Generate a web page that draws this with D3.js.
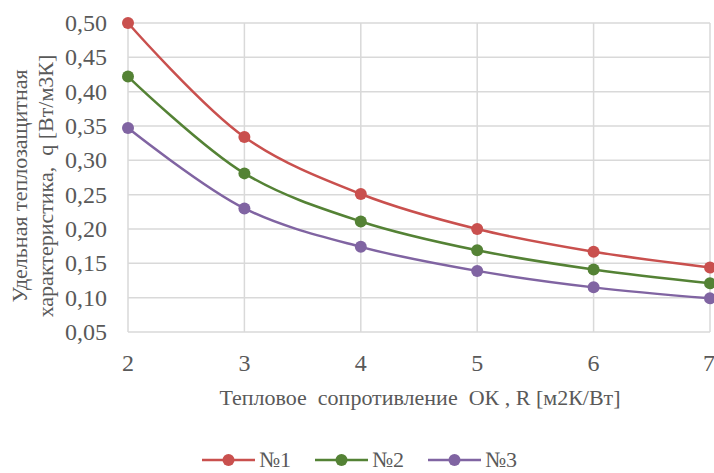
<!DOCTYPE html>
<html>
<head>
<meta charset="utf-8">
<script src="https://cdn.jsdelivr.net/npm/d3@7"></script>
</head>
<body style="margin:0">
<script>
// data
var resistance = [2, 3, 4, 5, 6, 7];
var series1 = [0.500, 0.334, 0.251, 0.200, 0.167, 0.144];
var series2 = [0.422, 0.281, 0.211, 0.169, 0.141, 0.121];
var series3 = [0.347, 0.230, 0.174, 0.139, 0.115, 0.099];
var seriesNames = ['№1', '№2', '№3'];
var seriesColors = ['#c9504e', '#548235', '#8064a2'];
var yTicks = [0.05, 0.10, 0.15, 0.20, 0.25, 0.30, 0.35, 0.40, 0.45, 0.50];

var width = 714;
var height = 473;
var margin = { top: 23, right: 4, bottom: 141, left: 128 };
var textColor = '#595959';

var svg = d3.select('body').append('svg')
    .attr('width', width)
    .attr('height', height);

var x = d3.scaleLinear().domain([2, 7]).range([margin.left, width - margin.right]);
var y = d3.scaleLinear().domain([0.05, 0.50]).range([height - margin.bottom, margin.top]);

// gridlines
svg.selectAll('line.hgrid')
    .data(yTicks).enter().append('line')
    .attr('class', 'hgrid')
    .attr('x1', x(2)).attr('x2', x(7))
    .attr('y1', function (d) { return y(d); })
    .attr('y2', function (d) { return y(d); })
    .attr('stroke', '#d9d9d9').attr('stroke-width', 1.5);

svg.selectAll('line.vgrid')
    .data(resistance).enter().append('line')
    .attr('class', 'vgrid')
    .attr('y1', y(0.05)).attr('y2', y(0.50))
    .attr('x1', function (d) { return x(d); })
    .attr('x2', function (d) { return x(d); })
    .attr('stroke', '#d9d9d9').attr('stroke-width', 1.5);

// y tick labels
svg.selectAll('text.ytick')
    .data(yTicks).enter().append('text')
    .attr('class', 'ytick')
    .attr('x', 107)
    .attr('y', function (d) { return y(d) + 8; })
    .attr('text-anchor', 'end')
    .style('font-family', '"Liberation Serif"')
    .style('font-size', '24px')
    .style('fill', textColor)
    .text(function (d) { return d.toFixed(2).replace('.', ','); });

// x tick labels
svg.selectAll('text.xtick')
    .data(resistance).enter().append('text')
    .attr('class', 'xtick')
    .attr('x', function (d) { return d === 7 ? x(d) + 5 : x(d); })
    .attr('y', 371)
    .attr('text-anchor', function (d) { return d === 7 ? 'end' : 'middle'; })
    .style('font-family', '"Liberation Serif"')
    .style('font-size', '24px')
    .style('fill', textColor)
    .text(function (d) { return d; });

// axis titles
svg.append('text')
    .attr('x', 420).attr('y', 405)
    .attr('text-anchor', 'middle')
    .style('font-family', '"Liberation Serif"')
    .style('font-size', '22px')
    .style('fill', textColor)
    .style('white-space', 'pre')
    .text('Тепловое  сопротивление  ОК , R [м2К/Вт]');

svg.append('text')
    .attr('transform', 'translate(27,186) rotate(-90)')
    .attr('text-anchor', 'middle')
    .style('font-family', '"Liberation Serif"')
    .style('font-size', '22px')
    .style('fill', textColor)
    .text('Удельная теплозащитная');

svg.append('text')
    .attr('transform', 'translate(53,186) rotate(-90)')
    .attr('text-anchor', 'middle')
    .style('font-family', '"Liberation Serif"')
    .style('font-size', '22px')
    .style('fill', textColor)
    .style('white-space', 'pre')
    .text('характеристика,  q [Вт/м3К]');

// series
var allSeries = [series1, series2, series3];
var line = d3.line()
    .x(function (d, i) { return x(resistance[i]); })
    .y(function (d) { return y(d); })
    .curve(d3.curveCatmullRom.alpha(0.5));

allSeries.forEach(function (values, s) {
    svg.append('path')
        .datum(values)
        .attr('d', line)
        .attr('fill', 'none')
        .attr('stroke', seriesColors[s])
        .attr('stroke-width', 2.5);

    svg.selectAll('circle.s' + s)
        .data(values).enter().append('circle')
        .attr('class', 's' + s)
        .attr('cx', function (d, i) { return x(resistance[i]); })
        .attr('cy', function (d) { return y(d); })
        .attr('r', 6)
        .attr('fill', seriesColors[s]);
});

// legend
var legendX = [202, 315, 428];
var legendY = 460;

svg.selectAll('line.legend')
    .data(seriesNames).enter().append('line')
    .attr('class', 'legend')
    .attr('x1', function (d, i) { return legendX[i]; })
    .attr('x2', function (d, i) { return legendX[i] + 53; })
    .attr('y1', legendY).attr('y2', legendY)
    .attr('stroke', function (d, i) { return seriesColors[i]; })
    .attr('stroke-width', 2.5);

svg.selectAll('circle.legend')
    .data(seriesNames).enter().append('circle')
    .attr('class', 'legend')
    .attr('cx', function (d, i) { return legendX[i] + 26.5; })
    .attr('cy', legendY)
    .attr('r', 6)
    .attr('fill', function (d, i) { return seriesColors[i]; });

svg.selectAll('text.legend')
    .data(seriesNames).enter().append('text')
    .attr('class', 'legend')
    .attr('x', function (d, i) { return legendX[i] + 57; })
    .attr('y', legendY + 7)
    .style('font-family', '"Liberation Serif"')
    .style('font-size', '22px')
    .style('fill', textColor)
    .text(function (d) { return d; });
</script>
</body>
</html>
